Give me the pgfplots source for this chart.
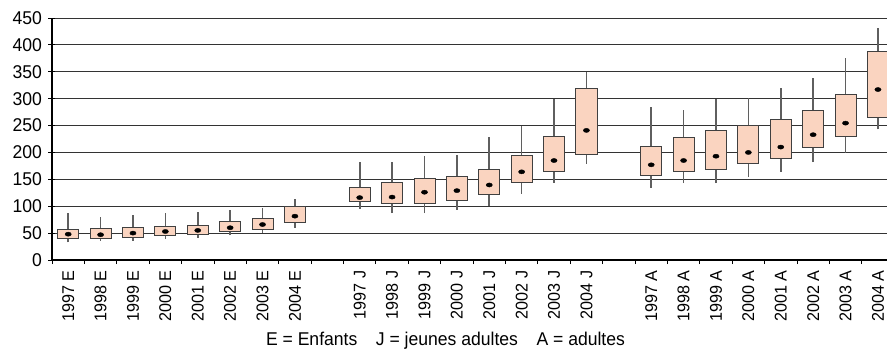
\documentclass[border=0pt]{standalone}
\usepackage{fontspec}
\setmainfont{Liberation Sans}[FakeStretch=0.95]
\usepackage{pgfplots}
\pgfplotsset{compat=1.18}
\definecolor{boxfill}{RGB}{250,212,192}
\definecolor{whisk}{RGB}{95,95,95}
% #1 position, #2 lower whisker, #3 lower quartile, #4 upper quartile, #5 upper whisker
\newcommand{\bx}[5]{%
  \pgfmathsetmacro\xl{#1-0.325}\pgfmathsetmacro\xr{#1+0.325}%
  \addplot[whisk, line width=1.6pt, forget plot] coordinates {(#1,#2) (#1,#5)};
  \addplot[draw=black!75, fill=boxfill, line width=0.9pt, forget plot] coordinates {(\xl,#3) (\xr,#3) (\xr,#4) (\xl,#4)} -- cycle;
}
\begin{document}
\begin{tikzpicture}
\begin{axis}[
  name=ax, at={(0,0)}, anchor=south west,
  scale only axis, width=835pt, height=242pt,
  xmin=-0.5, xmax=25.28, ymin=0, ymax=450,
  axis x line*=bottom, axis y line*=left,
  axis line style={-, black, line width=1.3pt},
  ytick={0,50,...,450},
  ymajorgrids, grid style={black!80, line width=0.9pt},
  xtick align=outside, ytick align=center,
  major tick length=7pt, minor tick length=4pt,
  xtick={0,...,25},
  xticklabels={1997 E,1998 E,1999 E,2000 E,2001 E,2002 E,2003 E,2004 E,{},1997 J,1998 J,1999 J,2000 J,2001 J,2002 J,2003 J,2004 J,{},1997 A,1998 A,1999 A,2000 A,2001 A,2002 A,2003 A,2004 A},
  minor xtick={-0.5,0.5,...,25.5},
  major x tick style={draw=none},
  minor x tick style={black, line width=0.8pt},
  ytick style={black, line width=0.8pt},
  /pgf/number format/assume math mode=true,
  xticklabel style={rotate=90, anchor=east, font=\fontsize{17}{17}\selectfont},
  yticklabel style={font=\fontsize{18.5}{18.5}\selectfont, xshift=-3pt},
]
\bx{0}{33}{41}{57}{87}
\bx{1}{36}{41}{58.5}{80}
\bx{2}{36}{42}{61}{84}
\bx{3}{39}{45}{62}{87}
\bx{4}{41}{48}{65}{90}
\bx{5}{46}{53}{72}{93}
\bx{6}{50}{57}{77}{97}
\bx{7}{60}{69}{99}{114}
\bx{9}{95}{108}{135}{182}
\bx{10}{87}{106}{145}{182}
\bx{11}{87}{106}{151}{194}
\bx{12}{93}{111}{155}{195}
\bx{13}{101}{122}{169}{229}
\bx{14}{123}{144}{195}{249}
\bx{15}{144}{165.5}{230}{300}
\bx{16}{179}{197}{319}{350}
\bx{18}{134}{157}{212}{285}
\bx{19}{143}{164}{228}{279}
\bx{20}{143}{169}{240}{299}
\bx{21}{154}{179}{250}{301}
\bx{22}{164}{188.5}{261}{320.5}
\bx{23}{182}{208.5}{279}{338}
\bx{24}{199}{229}{307.5}{375}
\bx{25}{243}{266}{388}{432}
\addplot[only marks, mark=*, black, mark size=2.3pt, mark options={xscale=1.35, yscale=0.9}] coordinates {
(0,48) (1,47) (2,50) (3,53) (4,55) (5,60) (6,66) (7,81.5)
(9,116) (10,117) (11,126) (12,129) (13,139.5) (14,164) (15,185) (16,241)
(18,177) (19,185) (20,193) (21,200) (22,210) (23,233) (24,254.5) (25,317)};
\end{axis}
\node[font=\fontsize{18.5}{18.5}\selectfont] at ([xshift=393.5pt,yshift=-81pt]ax.south west) {E = Enfants\quad J = jeunes adultes\quad A = adultes};
\pgfresetboundingbox
\path[use as bounding box] (-52pt,-94pt) rectangle (835pt,260pt);
\end{tikzpicture}
\end{document}
